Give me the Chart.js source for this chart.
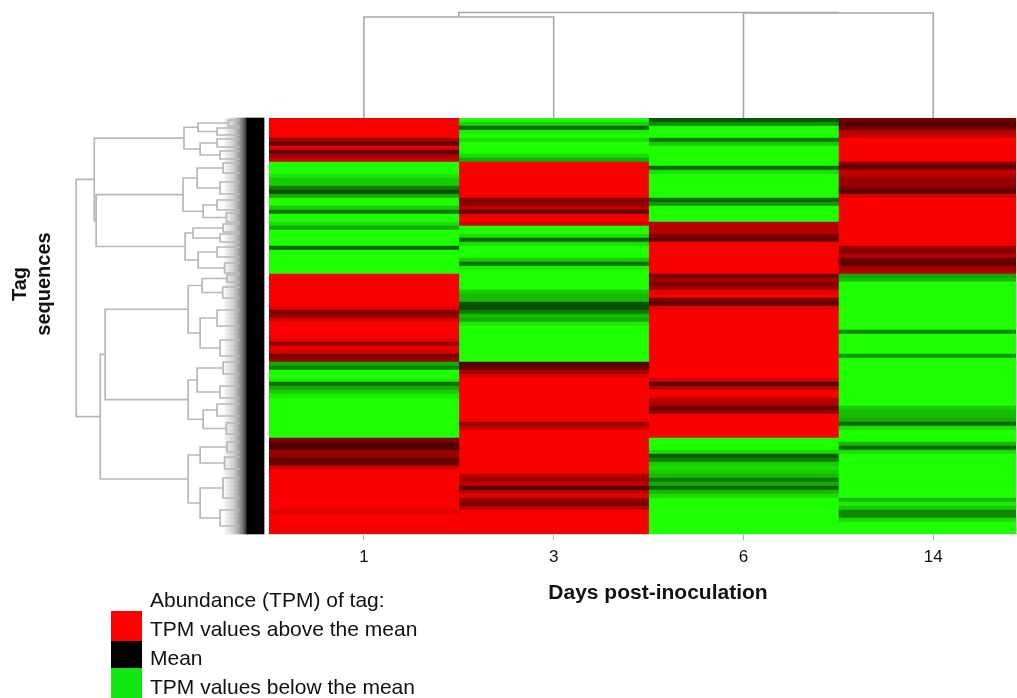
<!DOCTYPE html>
<html>
<head>
<meta charset="utf-8">
<script src="https://cdn.jsdelivr.net/npm/chart.js@4.4.1/dist/chart.umd.min.js"></script>
<style>
html,body{margin:0;padding:0;background:#fff;}
#wrap{position:relative;width:1017px;height:698px;overflow:hidden;font-family:"Liberation Sans",Arial,sans-serif;color:#111;}
#chart{position:absolute;left:0;top:0;}
.ylab{position:absolute;left:-39px;top:260px;width:140px;height:48px;transform:rotate(-90deg);text-align:center;font-weight:bold;font-size:20px;line-height:24px;}
.xlab{position:absolute;left:508px;top:580px;width:300px;text-align:center;font-weight:bold;font-size:21px;line-height:24px;white-space:nowrap;}
.lgt{position:absolute;left:150px;font-size:21px;line-height:29px;white-space:nowrap;}
.sw{position:absolute;left:111px;width:31px;}
</style>
</head>
<body>
<div id="wrap">
<canvas id="chart" width="1017" height="698"></canvas>
<div class="ylab">Tag<br>sequences</div>
<div class="xlab">Days post-inoculation</div>
<div class="lgt" style="top:585px">Abundance (TPM) of tag:</div>
<div class="sw" style="top:611px;height:30px;background:#ff0000"></div>
<div class="sw" style="top:641px;height:27px;background:#000"></div>
<div class="sw" style="top:668px;height:30px;background:#12e612"></div>
<div class="lgt" style="top:614px">TPM values above the mean</div>
<div class="lgt" style="top:643px">Mean</div>
<div class="lgt" style="top:672px">TPM values below the mean</div>
</div>
<script>
// ---------- data ----------
const dayLabels = ['1', '3', '6', '14'];
const rowCount = 104;

// centred abundance per tag row (positive = above mean, negative = below mean)
const day1 = [3,3,3,3,3,2,1.2,2.8,1.1,2,2.4,
  -3,-3,-3,-2.7,-2.4,-2.4,-1.5,-0.9,-2,-3,-3,-2.4,-1.4,-3,-3,-2.6,
  -2,-3,-3,-3,-3,-1.2,-3,-3,-3,-3,-3,-3,
  3,3,3,3,3,3,3,3,2.8,1.6,1.8,2.6,3,3,3,3,2.8,1.8,2.8,2.6,1.5,1.8,
  -2,-1.5,-3,-3,-2.8,-1.3,-2,-2.4,-2.8,-3,-3,-3,-3,-3,-3,-3,-3,-3,-3,
  1.6,1.0,0.9,1.9,1.8,1.2,1.3,2.6,3,3,3,3,3,3,3,3,3,3,2.7,3,3,3,3,3];
const day3 = [-3,-2.5,-1.2,-2.8,-3,-2.6,-3,-3,-3,-2.6,-2,
  3,3,3,3,3,3,3,3,3,1.5,1.8,2.2,1.3,2.8,3,2.6,
  -3,-3,-2.6,-1.2,-2.6,-3,-3,-3,-2.4,-1.3,-2.8,-3,
  -3,-3,-3,-3,-2.4,-2.2,-2.2,-1.0,-0.9,-1.4,-2.2,-2.0,-2.8,-3,-3,-3,-3,-3,-3,-3,-3,-3,
  1.0,1.2,2.0,2.6,3,3,3,3,3,3,3,3,3,3,3,1.8,2.4,3,3,
  3,3,3,3,3,3,3,3,3,2.2,2.0,2.4,1.0,2.2,2.8,1.8,1.5,2.2,3,3,3,3,3,3];
const day6 = [-1.0,-1.6,-3,-3,-3,-1.4,-2.4,-3,-3,-3,-3,
  -3,-1.2,-2.6,-3,-3,-3,-3,-3,-3,-1.2,-1.8,-3,-3,-3,-3,2.2,
  2.2,2.2,1.6,1.2,3,3,3,3,3,3,3,3,
  1.4,2.0,1.6,1.8,2.8,3,1.4,1.2,2.8,3,3,3,3,3,3,3,3,3,3,3,3,3,
  3,3,3,3,2.6,1.0,2.2,3,3,2.2,2.2,1.3,1.7,3,3,3,3,3,3,
  -3,-3,-3,-2.6,-1.1,-1.5,-2.4,-2.6,-2.4,-2.2,-1.4,-2.0,-1.2,-2.2,-2.6,-3,-3,-3,-3,-3,-3,-3,-3,-3];
const day14 = [1.4,1.0,1.3,2.2,2.4,3,3,3,3,3,3,
  1.5,1.3,2.4,2.2,1.8,1.9,1.6,1.0,2.6,3,3,3,3,3,3,3,
  3,3,3,3,3,1.8,1.6,2.2,1.3,1.1,2.0,2.2,
  -2.0,-2.2,-3,-3,-3,-3,-3,-3,-3,-3,-3,-3,-3,-3,-1.6,-3,-3,-3,-3,-3,-1.8,-3,
  -3,-3,-3,-3,-3,-3,-3,-3,-3,-3,-3,-2.4,-2.2,-2.2,-2.0,-1.2,-2.6,-3,-3,
  -3,-2.2,-1.2,-2.6,-3,-3,-3,-3,-3,-3,-3,-3,-3,-3,-3,-2.2,-2.8,-2.4,-1.6,-1.6,-2.6,-3,-3,-3];

// column dendrogram: [height, left, right]; leaves are column indices
const columnTree = [0.995, [0.953, 0, 1], [0.99, 2, 3]];

// row dendrogram: [height, left, right]; leaves are row positions
const treeU1 = [0.426, [0.351, [0.19, 0.0, 1.5], [0.25, 2.0, 3.75]], [0.340, [0.25, 4.75, 6.75], [0.234, 7.75, 9.75]]];
const treeU2 = [0.431, [0.356, [0.218, 10.75, 13.25], [0.234, 15.5, 18.5]], [0.324, [0.25, 20.0, 22.5], [0.2, 23.25, 25.5]]];
const treeU3 = [0.420, [0.378, [0.218, 26.0, 28.0], [0.234, 28.5, 30.5]], [0.351, [0.25, 31.75, 34.25], [0.21, 35.75, 38.25]]];
const treeL1 = [0.404, [0.330, [0.197, 38.75, 40.5], [0.22, 41.75, 44.5]], [0.340, [0.25, 47.5, 51.5], [0.234, 55.0, 59.0]]];
const treeL2 = [0.404, [0.356, [0.218, 60.5, 63.5], [0.234, 66.5, 69.5]], [0.324, [0.25, 71.0, 74.0], [0.2, 75.75, 78.5]]];
const treeL3 = [0.404, [0.340, [0.197, 80.5, 83.0], [0.21, 84.25, 87.25]], [0.340, [0.218, 89.5, 94.5], [0.234, 97.5, 101.5]]];
const rowTree = [1.0, [0.904, treeU1, [0.894, treeU2, treeU3]], [0.872, [0.846, treeL1, treeL2], treeL3]];
const rowLeafHeight = 0.13;
const leafBand = [0, 0.09];
const fuzzBand = [0.09, 0.21];

// ---------- layout constants ----------
const W = 1017, H = 698;
const plotLeft = 269, plotTop = 118, rowPx = 4, colPx = 190;
const plotWidth = W - plotLeft, plotHeight = rowCount * rowPx;
const leafEdgeX = 264, rowDendroPx = 188;   // leaf tips -> root distance
const colDendroPx = 106;

function cellColor(v) {
  const t = Math.min(Math.abs(v) / 3, 1);
  return v >= 0 ? `rgb(${Math.round(248 * t)},0,0)` : `rgb(${Math.round(30 * t)},${Math.round(255 * t)},0)`;
}

function treePoints(tree, leafPos, leafH, vertical) {
  const pts = [];
  const pt = (p, h) => vertical ? {x: p, y: h} : {x: h, y: p};
  (function walk(n) {
    if (!Array.isArray(n)) return {p: leafPos(n), h: leafH};
    const a = walk(n[1]), b = walk(n[2]), hh = n[0];
    pts.push(pt(a.p, a.h), pt(a.p, hh), pt(b.p, hh), pt(b.p, b.h), {x: null, y: null});
    return {p: (a.p + b.p) / 2, h: hh};
  })(tree);
  return pts;
}

const rowIds = Array.from({length: rowCount}, (_, i) => 'tag' + (i + 1));
const columns = [day1, day3, day6, day14];

const heatSets = columns.map((vals, c) => ({
  type: 'bar', label: 'Day ' + dayLabels[c], indexAxis: 'y', xAxisID: 'x', yAxisID: 'y',
  data: vals.map(() => [c, c + 1]),
  backgroundColor: vals.map(cellColor),
  borderWidth: 0, barPercentage: 1, categoryPercentage: 1, grouped: false, order: 5
}));

function fuzzGradient(ctx) {
  const ch = ctx.chart, s = ch.scales && ch.scales.xd;
  if (!s) return '#aaa';
  const x0 = s.getPixelForValue(fuzzBand[1]), x1 = s.getPixelForValue(fuzzBand[0]);
  if (!isFinite(x0) || !isFinite(x1) || x0 === x1) return '#aaa';
  const g = ch.ctx.createLinearGradient(x0, 0, x1, 0);
  g.addColorStop(0, 'rgba(215,215,215,0.25)');
  g.addColorStop(0.45, 'rgba(190,190,190,0.85)');
  g.addColorStop(0.8, '#777');
  g.addColorStop(1, '#222');
  return g;
}

const fuzzSet = {
  type: 'bar', label: 'leaves', indexAxis: 'y', xAxisID: 'xd', yAxisID: 'y',
  data: rowIds.map(() => fuzzBand.slice()),
  backgroundColor: fuzzGradient,
  borderWidth: 0, barPercentage: 1, categoryPercentage: 1, grouped: false, clip: false, order: 4
};
const leafSet = {
  type: 'bar', label: 'leaf tips', indexAxis: 'y', xAxisID: 'xd', yAxisID: 'y',
  data: rowIds.map(() => leafBand.slice()),
  backgroundColor: '#000',
  borderWidth: 0, barPercentage: 1, categoryPercentage: 1, grouped: false, clip: false, order: 3
};
const rowDendroSet = {
  type: 'line', label: 'row dendrogram', indexAxis: 'x', xAxisID: 'xd', yAxisID: 'yr',
  data: treePoints(rowTree, p => p, rowLeafHeight, false),
  borderColor: '#b8b8b8', borderWidth: 1.7, pointRadius: 0, fill: false, tension: 0,
  spanGaps: false, clip: false, order: 1
};
const colDendroSet = {
  type: 'line', label: 'column dendrogram', indexAxis: 'x', xAxisID: 'x', yAxisID: 'yd',
  data: treePoints(columnTree, c => c + 0.5, 0, true),
  borderColor: '#a8a8a8', borderWidth: 1.6, pointRadius: 0, fill: false, tension: 0,
  spanGaps: false, clip: false, order: 1
};

const xdMin = -(W - leafEdgeX) / rowDendroPx;
const xdMax = xdMin + plotWidth / rowDendroPx;
const ydRange = plotHeight / colDendroPx;
const helperScale = {display: false, offset: false, grace: 0, bounds: 'data', grid: {display: false, offset: false}};

const chart = new Chart(document.getElementById('chart'), {
  type: 'bar',
  data: {labels: rowIds, datasets: [...heatSets, fuzzSet, leafSet, rowDendroSet, colDendroSet]},
  options: {
    responsive: false, animation: false, events: [], indexAxis: 'y',
    layout: {padding: {left: plotLeft, right: 0, top: plotTop, bottom: 123}},
    plugins: {legend: {display: false}, tooltip: {enabled: false}, title: {display: false}},
    scales: {
      x: {
        type: 'linear', position: 'bottom', min: 0, max: plotWidth / colPx, offset: false, grace: 0,
        afterBuildTicks: (s) => { s.ticks = dayLabels.map((_, i) => ({value: i + 0.5})); },
        ticks: {autoSkip: false, maxRotation: 0, padding: 9, color: '#111',
          font: {family: 'Liberation Sans', size: 17, lineHeight: 1},
          callback: (v, i) => dayLabels[i]},
        grid: {display: true, drawOnChartArea: false, drawTicks: true, tickLength: 6, color: '#b0b0b0', lineWidth: 1, offset: false},
        border: {display: true, color: '#c4c4c4', width: 1.5},
        title: {display: false}
      },
      y: {type: 'category', display: false, offset: true, grid: {display: false}},
      xd: Object.assign({type: 'linear', axis: 'x', reverse: true, min: xdMin, max: xdMax}, helperScale),
      yd: Object.assign({type: 'linear', axis: 'y', min: -ydRange, max: 0}, helperScale),
      yr: Object.assign({type: 'linear', axis: 'y', reverse: true, min: -0.5, max: rowCount - 0.5}, helperScale)
    }
  }
});
chart.update();
</script>
</body>
</html>
